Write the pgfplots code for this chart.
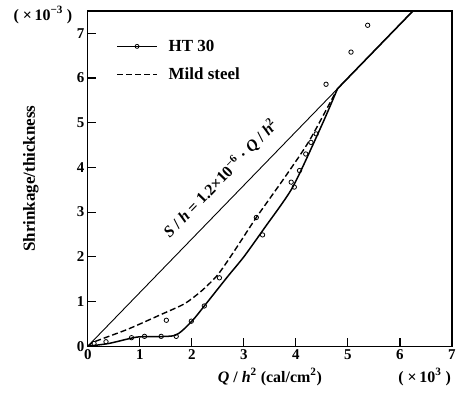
\documentclass[border=0pt]{standalone}
\usepackage{fontspec}
\setmainfont{Liberation Serif}
\usepackage{pgfplots}
\pgfplotsset{compat=1.18}
\begin{document}
\begin{tikzpicture}
\begin{axis}[
  scale only axis, width=365pt, height=336pt,
  xmin=0, xmax=7, ymin=0, ymax=7.5,
  xtick={0,1,2,3,4,5,6,7}, ytick={0,1,2,3,4,5,6,7},
  tick align=inside, major tick length=8pt,
  xtick pos=bottom, ytick pos=left,
  axis line style={line width=1.3pt},
  every tick/.style={line width=1.2pt, black},
  /pgf/number format/assume math mode=true,
  ticklabel style={font=\bfseries\fontsize{15}{17}\selectfont},
  legend style={at={(0.078,0.92)}, anchor=north west, draw=none, fill=none,
    font=\bfseries\fontsize{17}{19}\selectfont, row sep=11pt, column sep=9pt, inner sep=0pt},
  legend cell align=left,
  legend image code/.code={\draw[mark repeat=2,mark phase=2,#1] plot coordinates {(0pt,0pt) (20pt,0pt) (40pt,0pt)};},
  clip=false,
]
\addlegendimage{black, line width=1.4pt, mark=o, mark size=2pt, mark options={solid, line width=0.8pt, fill=white}}
\addlegendentry{HT 30}
\addlegendimage{black, line width=1.4pt, dash pattern=on 6pt off 3pt}
\addlegendentry{Mild steel}
% straight line S/h = 1.2 Q/h^2
\addplot[black, line width=0.9pt, forget plot] coordinates {(0,0) (6.25,7.5)};
% HT 30 curve
\addplot[black, line width=1.5pt, smooth, tension=0.4, forget plot] coordinates {
(0,0) (0.4,0.06) (0.8,0.17) (1.0,0.21) (1.67,0.24) (2.0,0.56) (2.24,0.9) (2.69,1.56)
(3.0,2.0) (3.4,2.65) (3.94,3.56) (4.5,4.95) (4.8,5.76)};
\addplot[black, line width=1.6pt, forget plot] coordinates {(4.8,5.76) (6.25,7.5)};
% Mild steel curve
\addplot[black, line width=1.4pt, dash pattern=on 6pt off 3pt, smooth, tension=0.4, forget plot] coordinates {
(0,0) (0.13,0.1) (0.77,0.38) (1.41,0.71) (1.86,0.95) (2.2,1.25) (2.5,1.6) (2.8,2.1)
(3.24,2.88) (3.8,3.8) (4.26,4.6) (4.8,5.76)};
% data points
\addplot[only marks, mark=o, mark size=2.2pt, mark options={line width=0.8pt, fill=white}, forget plot] coordinates {
(0.12,0.06) (0.35,0.1) (0.84,0.19) (1.09,0.22) (1.41,0.22) (1.70,0.22) (1.51,0.58)
(1.99,0.56) (2.24,0.9) (2.53,1.53) (3.24,2.88) (3.36,2.49) (3.91,3.67) (3.97,3.56)
(4.07,3.93) (4.19,4.3) (4.29,4.56) (4.39,4.75) (4.58,5.86) (5.06,6.58) (5.38,7.18)};
\node[rotate=46, font=\bfseries\fontsize{16}{18}\selectfont] at (axis cs:2.55,3.75)
  {\textit{S} / \textit{h} = 1.2×10\textsuperscript{−6} · \textit{Q} / \textit{h}\textsuperscript{2}};
\node[rotate=90, font=\bfseries\fontsize{17}{19}\selectfont] at ([xshift=-57pt]rel axis cs:0,0.5) {Shrinkage/thickness};
\node[font=\bfseries\fontsize{16}{18}\selectfont] at ([xshift=-45pt,yshift=-4pt]rel axis cs:0,1) {( ×\,10\textsuperscript{−3} )};
\node[font=\bfseries\fontsize{16}{18}\selectfont] at ([yshift=-31pt]rel axis cs:0.5,0) {\textit{Q} / \textit{h}\textsuperscript{2} (cal/cm\textsuperscript{2})};
\node[font=\bfseries\fontsize{16}{18}\selectfont] at ([yshift=-31pt]rel axis cs:0.925,0) {( ×\,10\textsuperscript{3} )};
\end{axis}
\path ([shift={(-88pt,-47pt)}]current axis.south west) rectangle ([shift={(6pt,11pt)}]current axis.north east);
\end{tikzpicture}
\end{document}
